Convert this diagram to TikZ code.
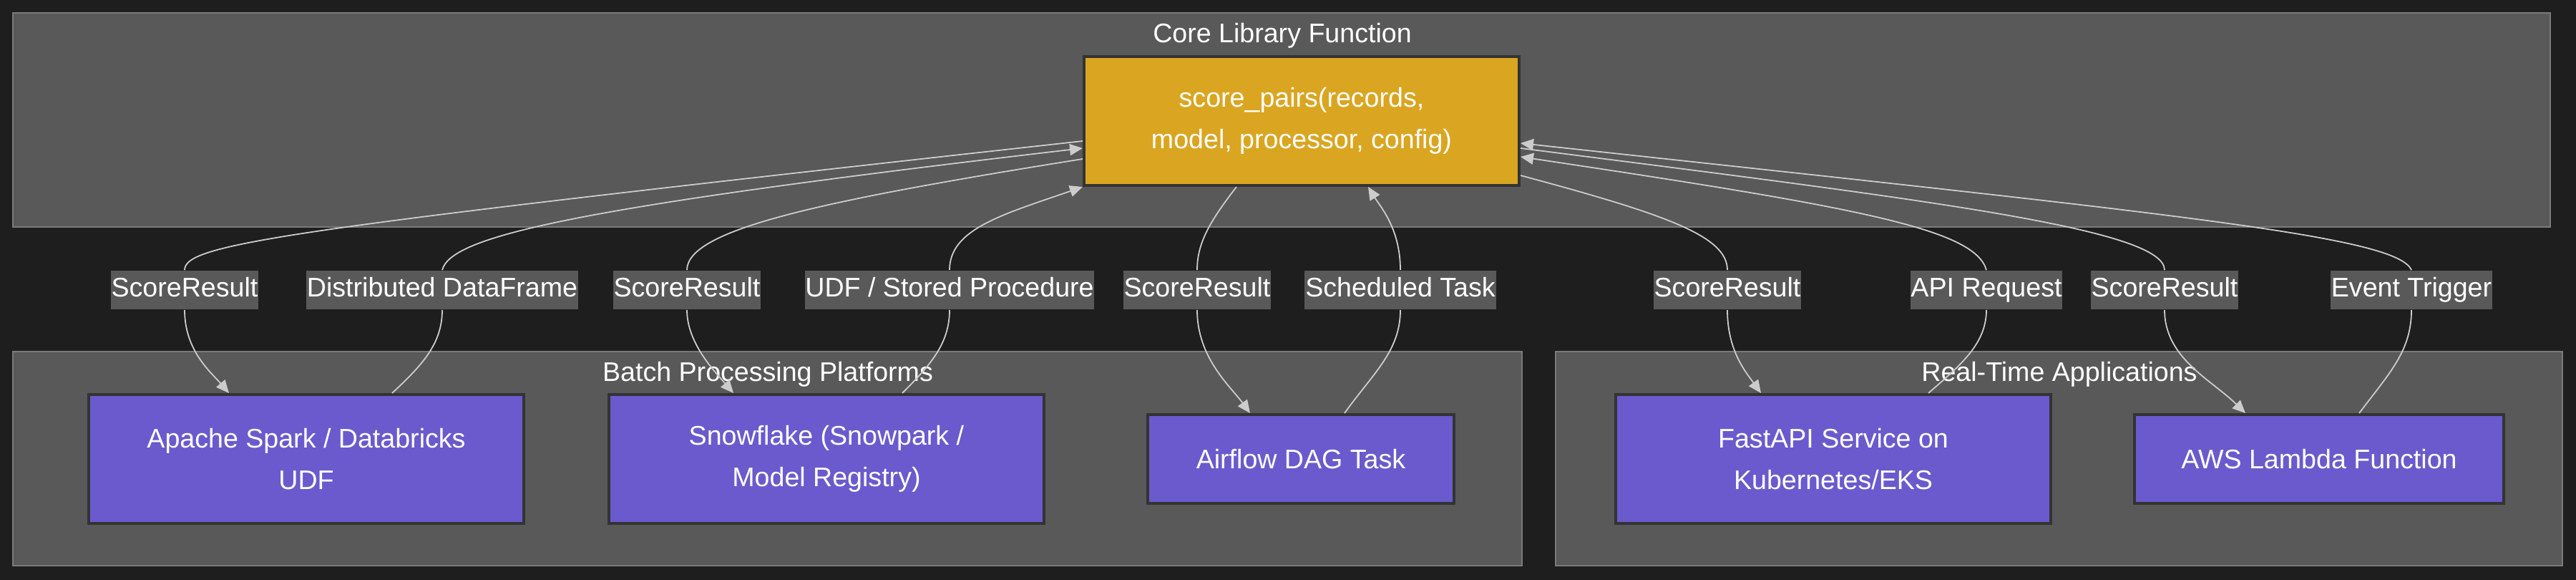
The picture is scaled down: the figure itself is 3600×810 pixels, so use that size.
\documentclass[tikz,border=0pt]{standalone}
\usepackage{fontspec}
\setmainfont{Liberation Sans}
\usetikzlibrary{arrows.meta}

\definecolor{page}{HTML}{1E1E1E}
\definecolor{groupfill}{HTML}{595959}
\definecolor{groupline}{HTML}{7A7A7A}
\definecolor{corefill}{HTML}{DAA520}
\definecolor{platfill}{HTML}{6A5ACD}
\definecolor{boxline}{HTML}{333333}
\definecolor{wire}{HTML}{CCCCCC}

\begin{document}
\begin{tikzpicture}[
    x=0.25pt, y=-0.25pt,
    group/.style={draw=groupline, fill=groupfill, line width=0.5pt},
    grouptitle/.style={text=white, font=\fontsize{9.4}{11}\selectfont},
    box/.style={
        rectangle,draw=boxline,line width=1pt,
        text=white,align=center,
        minimum width=152pt,
        minimum height=45pt,
        font=\fontsize{9.4}{14.4}\selectfont
    },
    corebox/.style={box, fill=corefill},
    platbox/.style={box, fill=platfill},
    slim/.style={minimum height=31pt},
    tag/.style={
        fill=groupfill,text=white,
        inner xsep=0.2pt,inner ysep=0pt,
        text height=6.8pt,text depth=2.2pt,
        minimum height=13.5pt,
        font=\fontsize{9.4}{11}\selectfont
    },
    flow/.style={draw=wire, line width=0.45pt},
    arrow/.style={flow, -{Triangle[length=4.5pt,width=4pt]}}
]
\fill[page] (0,0) rectangle (3600,810);

% groups
\draw[group] (18,18) rectangle (3564,317);
\draw[group] (18,491) rectangle (2127,790);
\draw[group] (2174,491) rectangle (3581,790);
\node[grouptitle] (coretitle) at (1792,50) {Core Library Function};
\node[grouptitle] (batchtitle) at (1073,523) {Batch Processing Platforms};
\node[grouptitle] (rttitle) at (2878,523) {Real-Time Applications};

% nodes
\node[corebox] (core) at (1819,169) {score\_pairs(records,\\model, processor, config)};
\node[platbox] (spark) at (428,641) {Apache Spark / Databricks\\UDF};
\node[platbox] (snow) at (1155,641) {Snowflake (Snowpark /\\Model Registry)};
\node[platbox, slim, minimum width=107pt] (airflow) at (1818,641) {Airflow DAG Task};
\node[platbox] (fastapi) at (2562,641) {FastAPI Service on\\Kubernetes/EKS};
\node[platbox, slim, minimum width=129pt] (lambda) at (3241,641) {AWS Lambda Function};

% edge labels
\node[tag] (res1) at (258,405) {ScoreResult};
\node[tag] (frame) at (618,405) {Distributed DataFrame};
\node[tag] (res2) at (960,405) {ScoreResult};
\node[tag] (udf) at (1327,405) {UDF / Stored Procedure};
\node[tag] (res3) at (1673,405) {ScoreResult};
\node[tag] (sched) at (1957,405) {Scheduled Task};
\node[tag] (res4) at (2414,405) {ScoreResult};
\node[tag] (apireq) at (2776,405) {API Request};
\node[tag] (res5) at (3025,405) {ScoreResult};
\node[tag] (event) at (3370,405) {Event Trigger};

% batch side
\draw[flow] (core.west |- 0,197) .. controls (400,320) and (258,340) .. (res1.north);
\draw[arrow] (res1.south) .. controls (258,490) and (295,520) .. (spark.north -| 320,0);
\draw[flow] (spark.north -| 548,0) .. controls (590,510) and (618,480) .. (frame.south);
\draw[arrow] (frame.north) .. controls (630,330) and (800,290) .. (core.west |- 0,207);
\draw[flow] (core.west |- 0,222) .. controls (1150,280) and (960,320) .. (res2.north);
\draw[arrow] (res2.south) .. controls (960,480) and (1000,520) .. (snow.north -| 1025,0);
\draw[flow] (snow.north -| 1261,0) .. controls (1300,510) and (1327,480) .. (udf.south);
\draw[arrow] (udf.north) .. controls (1327,320) and (1400,300) .. (core.south west);
\draw[flow] (core.south -| 1728,0) .. controls (1690,310) and (1673,340) .. (res3.north);
\draw[arrow] (res3.south) .. controls (1673,500) and (1720,540) .. (airflow.north -| 1747,0);
\draw[flow] (airflow.north -| 1879,0) .. controls (1920,520) and (1957,490) .. (sched.south);
\draw[arrow] (sched.north) .. controls (1957,320) and (1930,290) .. (core.south -| 1912,0);

% real-time side
\draw[flow] (core.east |- 0,245) .. controls (2330,300) and (2414,330) .. (res4.north);
\draw[arrow] (res4.south) .. controls (2414,490) and (2440,520) .. (fastapi.north -| 2461,0);
\draw[flow] (fastapi.north -| 2695,0) .. controls (2740,510) and (2776,480) .. (apireq.south);
\draw[arrow] (apireq.north) .. controls (2760,320) and (2600,290) .. (core.east |- 0,219);
\draw[flow] (core.east |- 0,207) .. controls (2700,280) and (3025,320) .. (res5.north);
\draw[arrow] (res5.south) .. controls (3025,500) and (3090,530) .. (lambda.north -| 3138,0);
\draw[flow] (lambda.north -| 3297,0) .. controls (3340,520) and (3370,490) .. (event.south);
\draw[arrow] (event.north) .. controls (3350,330) and (3050,300) .. (core.east |- 0,200);
\end{tikzpicture}
\end{document}
